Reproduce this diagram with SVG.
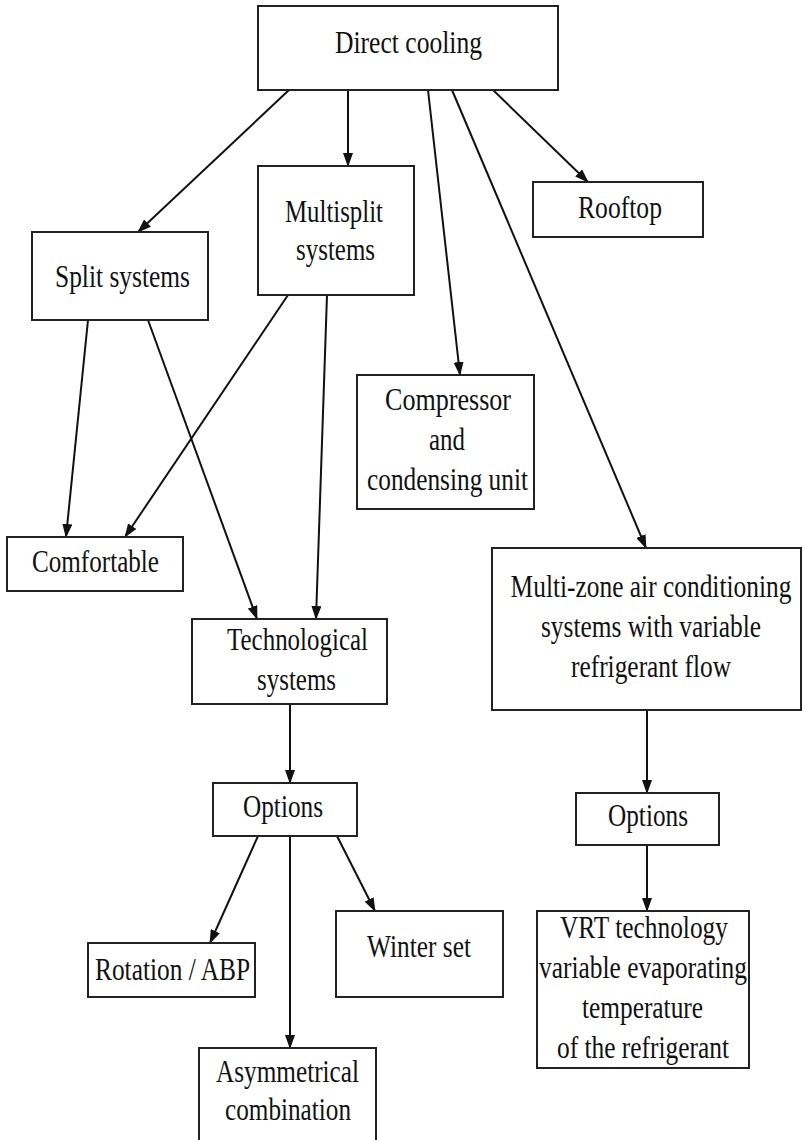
<svg xmlns="http://www.w3.org/2000/svg" width="803" height="1140" viewBox="0 0 803 1140">
<style>
.box{fill:#fff;stroke:#222;stroke-width:2}
.t{font-family:"Liberation Serif","Times New Roman",serif;font-size:31px;fill:#111}
.m{text-anchor:middle}
.c{fill:none;stroke:#111;stroke-width:2;marker-end:url(#ah)}
</style>
<defs>
<marker id="ah" markerUnits="userSpaceOnUse" markerWidth="14" markerHeight="10" refX="13" refY="5" orient="auto" viewBox="0 0 14 10">
<path d="M0,0 L14,5 L0,10 z" fill="#111"/>
</marker>
</defs>
<rect width="803" height="1140" fill="#fff"/>
<g id="connectors">
<line class="c" x1="289" y1="90" x2="138" y2="232"/>
<line class="c" x1="348" y1="90" x2="348" y2="166"/>
<line class="c" x1="428" y1="90" x2="460" y2="375"/>
<line class="c" x1="452" y1="90" x2="646" y2="548"/>
<line class="c" x1="493" y1="90" x2="588" y2="182"/>
<line class="c" x1="88" y1="320" x2="66" y2="537"/>
<line class="c" x1="148" y1="320" x2="257" y2="619"/>
<line class="c" x1="288" y1="295" x2="125" y2="537"/>
<line class="c" x1="327" y1="295" x2="316" y2="619"/>
<line class="c" x1="290" y1="704" x2="290" y2="783"/>
<line class="c" x1="258" y1="836" x2="210" y2="943"/>
<line class="c" x1="290" y1="836" x2="290" y2="1048"/>
<line class="c" x1="337" y1="836" x2="375" y2="911"/>
<line class="c" x1="647" y1="710" x2="647" y2="793"/>
<line class="c" x1="647" y1="845" x2="647" y2="911"/>
</g>
<g id="direct-cooling">
<rect class="box" x="258" y="6" width="300" height="84"/>
<text class="t" x="335" y="53" textLength="147" lengthAdjust="spacingAndGlyphs" style="font-size:32px">Direct cooling</text>
</g>
<g id="split-systems">
<rect class="box" x="32" y="232" width="176" height="88"/>
<text class="t" x="55" y="287" textLength="135" lengthAdjust="spacingAndGlyphs">Split systems</text>
</g>
<g id="multisplit-systems">
<rect class="box" x="258" y="166" width="156" height="129"/>
<text class="t" x="285" y="222" textLength="98" lengthAdjust="spacingAndGlyphs">Multisplit</text>
<text class="t" x="296" y="260" textLength="79" lengthAdjust="spacingAndGlyphs">systems</text>
</g>
<g id="rooftop">
<rect class="box" x="533" y="182" width="170" height="55"/>
<text class="t" x="578" y="218" textLength="84" lengthAdjust="spacingAndGlyphs">Rooftop</text>
</g>
<g id="compressor">
<rect class="box" x="357" y="375" width="177" height="134"/>
<text class="t" x="385" y="410" textLength="126" lengthAdjust="spacingAndGlyphs">Compressor</text>
<text class="t" x="429" y="450" textLength="36" lengthAdjust="spacingAndGlyphs">and</text>
<text class="t" x="367" y="490" textLength="161" lengthAdjust="spacingAndGlyphs">condensing unit</text>
</g>
<g id="comfortable">
<rect class="box" x="7" y="537" width="176" height="54"/>
<text class="t" x="32" y="572" textLength="127" lengthAdjust="spacingAndGlyphs">Comfortable</text>
</g>
<g id="technological-systems">
<rect class="box" x="192" y="619" width="195" height="85"/>
<text class="t" x="227" y="650" textLength="141" lengthAdjust="spacingAndGlyphs">Technological</text>
<text class="t" x="257" y="690" textLength="79" lengthAdjust="spacingAndGlyphs">systems</text>
</g>
<g id="multi-zone">
<rect class="box" x="492" y="548" width="309" height="162"/>
<g transform="translate(651,0) scale(0.82,1)">
<text class="t m" x="0" y="597">Multi-zone air conditioning</text>
<text class="t m" x="0" y="637">systems with variable</text>
<text class="t m" x="0" y="677">refrigerant flow</text>
</g>
</g>
<g id="options-left">
<rect class="box" x="213" y="783" width="144" height="53"/>
<text class="t" x="243" y="817" textLength="80" lengthAdjust="spacingAndGlyphs">Options</text>
</g>
<g id="rotation-abp">
<rect class="box" x="88" y="943" width="167" height="54"/>
<text class="t" x="95" y="980" textLength="155" lengthAdjust="spacingAndGlyphs">Rotation / ABP</text>
</g>
<g id="winter-set">
<rect class="box" x="336" y="911" width="167" height="86"/>
<text class="t" x="367" y="957" textLength="104" lengthAdjust="spacingAndGlyphs">Winter set</text>
</g>
<g id="asymmetrical-combination">
<rect class="box" x="199" y="1048" width="177" height="100"/>
<text class="t" x="216" y="1082" textLength="143" lengthAdjust="spacingAndGlyphs">Asymmetrical</text>
<text class="t" x="225" y="1120" textLength="126" lengthAdjust="spacingAndGlyphs">combination</text>
</g>
<g id="options-right">
<rect class="box" x="576" y="793" width="143" height="52"/>
<text class="t" x="608" y="826" textLength="80" lengthAdjust="spacingAndGlyphs">Options</text>
</g>
<g id="vrt-technology">
<rect class="box" x="537" y="911" width="212" height="157"/>
<text class="t" x="560" y="938" textLength="168" lengthAdjust="spacingAndGlyphs">VRT technology</text>
<text class="t" x="539" y="978" textLength="208" lengthAdjust="spacingAndGlyphs">variable evaporating</text>
<text class="t" x="582" y="1018" textLength="121" lengthAdjust="spacingAndGlyphs">temperature</text>
<text class="t" x="557" y="1058" textLength="172" lengthAdjust="spacingAndGlyphs">of the refrigerant</text>
</g>
</svg>
